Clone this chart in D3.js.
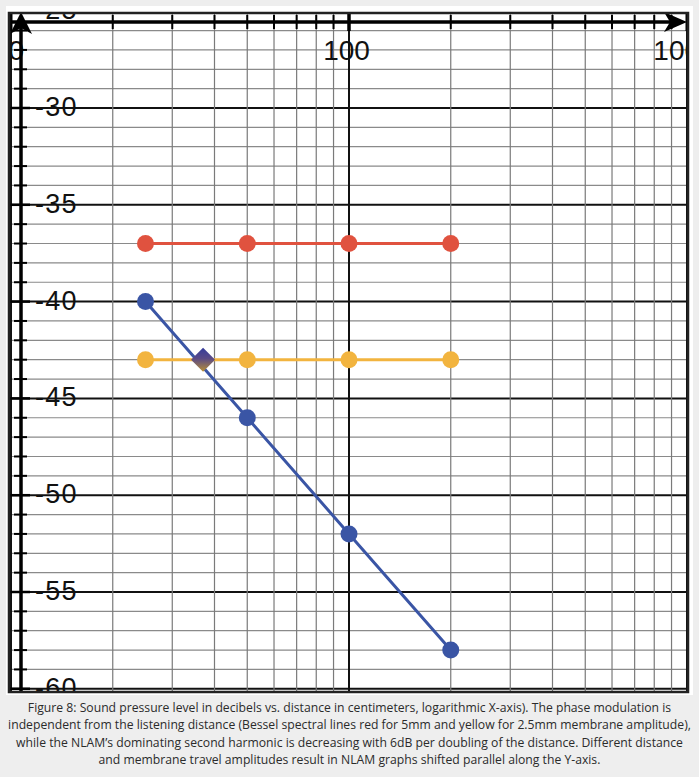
<!DOCTYPE html>
<html>
<head>
<meta charset="utf-8">
<script src="https://cdn.jsdelivr.net/npm/d3@7"></script>
<style>
  html, body { margin: 0; padding: 0; background: #eeeeee; }
  svg { display: block; }
</style>
</head>
<body>
<svg id="chart" width="699" height="777"></svg>
<script>
// data
const distances  = [25, 50, 100, 200];
const redSpl     = [-37, -37, -37, -37];   // Bessel line, 5mm
const yellowSpl  = [-43, -43, -43, -43];   // Bessel line, 2.5mm
const blueSpl    = [-40, -46, -52, -58];   // NLAM 2nd harmonic
const crossDist  = [37];
const crossSpl   = [-43];
const xLabels    = [10, 100, 1000];
const yLabels    = [-25, -30, -35, -40, -45, -50, -55, -60];
const captionLines = [
  'Figure 8: Sound pressure level in decibels vs. distance in centimeters, logarithmic X-axis). The phase modulation is',
  'independent from the listening distance (Bessel spectral lines red for 5mm and yellow for 2.5mm membrane amplitude),',
  'while the NLAM\u2019s dominating second harmonic is decreasing with 6dB per doubling of the distance. Different distance',
  'and membrane travel amplitudes result in NLAM graphs shifted parallel along the Y-axis.'
];

const svg = d3.select('#chart');

// scales
const x = d3.scaleLog().domain([10, 1000]).range([11, 687]);
const y = d3.scaleLinear().domain([-25, -60]).range([11.2, 688.8]);

const axisX = 21, axisY = 22;   // pinned axes (graph app style)

// panel
svg.append('rect').attr('x', 6).attr('y', 6).attr('width', 687).attr('height', 689).attr('fill', '#fff');

const defs = svg.append('defs');
defs.append('clipPath').attr('id', 'plot')
  .append('rect').attr('x', 9).attr('y', 13).attr('width', 680).attr('height', 679);
const grad = defs.append('linearGradient').attr('id', 'diam')
  .attr('x1', 0).attr('y1', 0).attr('x2', 0).attr('y2', 1);
grad.append('stop').attr('offset', '0%').attr('stop-color', '#343c9c');
grad.append('stop').attr('offset', '45%').attr('stop-color', '#5a4a86');
grad.append('stop').attr('offset', '100%').attr('stop-color', '#b88f35');

const g = svg.append('g').attr('clip-path', 'url(#plot)');

// grid
const xGrid = [];
for (let d = 1; d <= 2; d++) for (let k = 1; k <= 10; k++) xGrid.push(k * Math.pow(10, d));
const yGrid = d3.range(-60, -24, 1);

g.append('g').selectAll('line').data(yGrid).enter().append('line')
  .attr('x1', 0).attr('x2', 699)
  .attr('y1', d => y(d)).attr('y2', d => y(d))
  .attr('stroke', d => d % 5 === 0 ? '#111' : '#8a8a8a')
  .attr('stroke-width', d => d % 5 === 0 ? 2 : 1.2);

g.append('g').selectAll('line').data(xGrid).enter().append('line')
  .attr('y1', 0).attr('y2', 700)
  .attr('x1', d => x(d)).attr('x2', d => x(d))
  .attr('stroke', d => xLabels.includes(d) ? '#111' : '#7a7a7a')
  .attr('stroke-width', d => xLabels.includes(d) ? 2 : 1.2);

// tick labels
g.append('g').selectAll('text').data(yLabels).enter().append('text')
  .attr('x', 35).attr('y', d => y(d) + 8)
  .attr('font-family', 'Liberation Sans, Arial, sans-serif')
  .attr('font-size', 27).attr('letter-spacing', 1.2).attr('fill', '#111')
  .text(d => d);

g.append('g').selectAll('text').data(xLabels).enter().append('text')
  .attr('x', d => x(d) - 2.5).attr('y', 60)
  .attr('text-anchor', 'middle')
  .attr('font-family', 'Liberation Sans, Arial, sans-serif')
  .attr('font-size', 28).attr('fill', '#111')
  .text(d => d);

// axes with ticks and arrows
g.append('g').selectAll('line').data(yGrid).enter().append('line')
  .attr('x1', d => d % 5 === 0 ? 8 : 14).attr('x2', d => d % 5 === 0 ? 30 : 27)
  .attr('y1', d => y(d)).attr('y2', d => y(d))
  .attr('stroke', '#000').attr('stroke-width', d => d % 5 === 0 ? 2.5 : 2);

g.append('g').selectAll('line').data(xGrid).enter().append('line')
  .attr('x1', d => x(d)).attr('x2', d => x(d))
  .attr('y1', d => xLabels.includes(d) ? 13 : 15).attr('y2', d => xLabels.includes(d) ? 31 : 29)
  .attr('stroke', '#000').attr('stroke-width', d => xLabels.includes(d) ? 3 : 2);

g.append('line').attr('x1', axisX).attr('x2', axisX).attr('y1', 20).attr('y2', 700)
  .attr('stroke', '#000').attr('stroke-width', 3.5);
g.append('line').attr('x1', 0).attr('x2', 675).attr('y1', axisY).attr('y2', axisY)
  .attr('stroke', '#000').attr('stroke-width', 3.5);
g.append('path').attr('d', `M${axisX},12 L${axisX + 11},34 L${axisX},28 L${axisX - 11},34 Z`).attr('fill', '#000');
g.append('path').attr('d', `M687,${axisY} L664,${axisY - 10} L670,${axisY} L664,${axisY + 10} Z`).attr('fill', '#000');

// series
const series = [
  { vals: yellowSpl, color: '#f2b43f' },
  { vals: redSpl,    color: '#e0523f' },
  { vals: blueSpl,   color: '#3a55a5' }
];
const line = d3.line().x((d, i) => x(distances[i])).y(d => y(d));

series.forEach(s => {
  g.append('path').datum(s.vals).attr('d', line)
    .attr('fill', 'none').attr('stroke', s.color).attr('stroke-width', 3);
  g.append('g').selectAll('circle').data(s.vals).enter().append('circle')
    .attr('cx', (d, i) => x(distances[i])).attr('cy', d => y(d))
    .attr('r', 8.5).attr('fill', s.color);
});

// intersection marker
g.append('g').selectAll('path').data(crossDist).enter().append('path')
  .attr('d', (d, i) => {
    const cx = x(d), cy = y(crossSpl[i]), r = 12;
    return `M${cx},${cy - r} L${cx + r},${cy} L${cx},${cy + r} L${cx - r},${cy} Z`;
  })
  .attr('fill', 'url(#diam)');

// frame
svg.append('rect').attr('x', 9).attr('y', 13).attr('width', 679).attr('height', 679)
  .attr('fill', 'none').attr('stroke', '#222').attr('stroke-width', 2.5);

// caption
svg.append('g').selectAll('text').data(captionLines).enter().append('text')
  .attr('x', 349.5).attr('y', (d, i) => 712 + i * 17.4)
  .attr('text-anchor', 'middle')
  .attr('font-family', 'Open Sans, sans-serif')
  .attr('font-size', 12.2).attr('fill', '#2b2b2b')
  .text(d => d);
</script>
</body>
</html>
